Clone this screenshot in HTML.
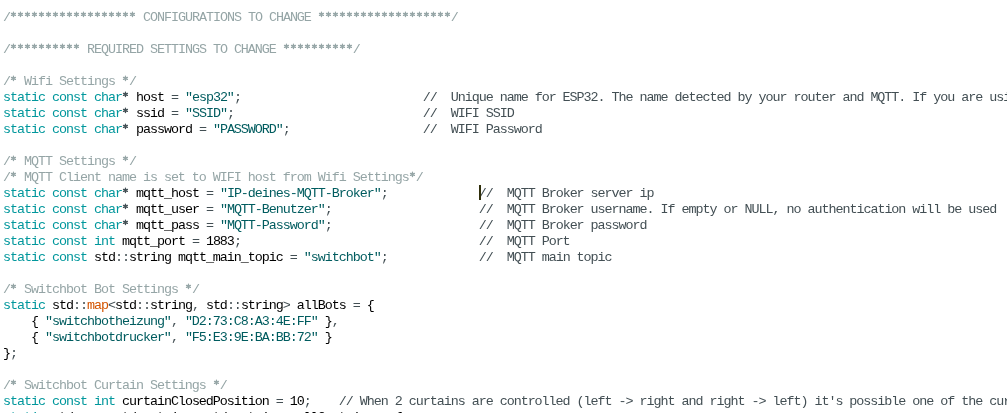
<!DOCTYPE html>
<html><head><meta charset="utf-8">
<style>
html,body{margin:0;padding:0;background:#fff;}
body{width:1007px;height:413px;overflow:hidden;position:relative;}
#ed{will-change:transform;position:absolute;left:2.8px;top:10px;font-family:"Liberation Mono",monospace;font-size:13.4px;letter-spacing:-1.0413px;line-height:16px;color:#000;}
.l{height:16px;white-space:pre;}
.k{color:#00979C}
.s{color:#005C5F}
.c1{color:#95A5A6}
.c2{color:#434F54}
.o{color:#434F54}
.f{color:#D35400}
i{font-style:normal;color:transparent}
#st{position:absolute;left:0;top:0;}
#cur{position:absolute;left:479px;top:185px;width:2px;height:15px;background:#2f2e0a;}
</style></head><body>
<div id="ed">
<div class="l"><span class="c1">/<i>*</i><i>*</i><i>*</i><i>*</i><i>*</i><i>*</i><i>*</i><i>*</i><i>*</i><i>*</i><i>*</i><i>*</i><i>*</i><i>*</i><i>*</i><i>*</i><i>*</i><i>*</i> CONFIGURATIONS TO CHANGE <i>*</i><i>*</i><i>*</i><i>*</i><i>*</i><i>*</i><i>*</i><i>*</i><i>*</i><i>*</i><i>*</i><i>*</i><i>*</i><i>*</i><i>*</i><i>*</i><i>*</i><i>*</i><i>*</i>/</span></div>
<div class="l"></div>
<div class="l"><span class="c1">/<i>*</i><i>*</i><i>*</i><i>*</i><i>*</i><i>*</i><i>*</i><i>*</i><i>*</i><i>*</i> REQUIRED SETTINGS TO CHANGE <i>*</i><i>*</i><i>*</i><i>*</i><i>*</i><i>*</i><i>*</i><i>*</i><i>*</i><i>*</i>/</span></div>
<div class="l"></div>
<div class="l"><span class="c1">/<i>*</i> Wifi Settings <i>*</i>/</span></div>
<div class="l"><span class="k">static</span> <span class="k">const</span> <span class="k">char</span><span class="o"><i>*</i></span> host <span class="o">=</span> <span class="s">"esp32"</span><span class="o">;</span>                          <span class="c2">//  Unique name for ESP32. The name detected by your router and MQTT. If you are using more than one ESP32</span></div>
<div class="l"><span class="k">static</span> <span class="k">const</span> <span class="k">char</span><span class="o"><i>*</i></span> ssid <span class="o">=</span> <span class="s">"SSID"</span><span class="o">;</span>                           <span class="c2">//  WIFI SSID</span></div>
<div class="l"><span class="k">static</span> <span class="k">const</span> <span class="k">char</span><span class="o"><i>*</i></span> password <span class="o">=</span> <span class="s">"PASSWORD"</span><span class="o">;</span>                   <span class="c2">//  WIFI Password</span></div>
<div class="l"></div>
<div class="l"><span class="c1">/<i>*</i> MQTT Settings <i>*</i>/</span></div>
<div class="l"><span class="c1">/<i>*</i> MQTT Client name is set to WIFI host from Wifi Settings<i>*</i>/</span></div>
<div class="l"><span class="k">static</span> <span class="k">const</span> <span class="k">char</span><span class="o"><i>*</i></span> mqtt_host <span class="o">=</span> <span class="s">"IP-deines-MQTT-Broker"</span><span class="o">;</span>             <span class="c2">//  MQTT Broker server ip</span></div>
<div class="l"><span class="k">static</span> <span class="k">const</span> <span class="k">char</span><span class="o"><i>*</i></span> mqtt_user <span class="o">=</span> <span class="s">"MQTT-Benutzer"</span><span class="o">;</span>                     <span class="c2">//  MQTT Broker username. If empty or NULL, no authentication will be used</span></div>
<div class="l"><span class="k">static</span> <span class="k">const</span> <span class="k">char</span><span class="o"><i>*</i></span> mqtt_pass <span class="o">=</span> <span class="s">"MQTT-Password"</span><span class="o">;</span>                     <span class="c2">//  MQTT Broker password</span></div>
<div class="l"><span class="k">static</span> <span class="k">const</span> <span class="k">int</span> mqtt_port <span class="o">=</span> 1883<span class="o">;</span>                                  <span class="c2">//  MQTT Port</span></div>
<div class="l"><span class="k">static</span> <span class="k">const</span> std<span class="o">::</span>string mqtt_main_topic <span class="o">=</span> <span class="s">"switchbot"</span><span class="o">;</span>             <span class="c2">//  MQTT main topic</span></div>
<div class="l"></div>
<div class="l"><span class="c1">/<i>*</i> Switchbot Bot Settings <i>*</i>/</span></div>
<div class="l"><span class="k">static</span> std<span class="o">::</span><span class="f">map</span><span class="o">&lt;</span>std<span class="o">::</span>string<span class="o">,</span> std<span class="o">::</span>string<span class="o">&gt;</span> allBots <span class="o">=</span> {</div>
<div class="l">    { <span class="s">"switchbotheizung"</span><span class="o">,</span> <span class="s">"D2:73:C8:A3:4E:FF"</span> }<span class="o">,</span></div>
<div class="l">    { <span class="s">"switchbotdrucker"</span><span class="o">,</span> <span class="s">"F5:E3:9E:BA:BB:72"</span> }</div>
<div class="l">}<span class="o">;</span></div>
<div class="l"></div>
<div class="l"><span class="c1">/<i>*</i> Switchbot Curtain Settings <i>*</i>/</span></div>
<div class="l"><span class="k">static</span> <span class="k">const</span> <span class="k">int</span> curtainClosedPosition <span class="o">=</span> 10<span class="o">;</span>    <span class="c2">// When 2 curtains are controlled (left -&gt; right and right -&gt; left) it's possible one of the curtains</span></div>
<div class="l"><span class="k">static</span> std<span class="o">::</span><span class="f">map</span><span class="o">&lt;</span>std<span class="o">::</span>string<span class="o">,</span> std<span class="o">::</span>string<span class="o">&gt;</span> allCurtains <span class="o">=</span> {</div>
</div>
<svg id="st" width="1007" height="413" viewBox="0 0 1007 413"><defs><path id="a" d="M0,-2.20V2.20M-1.94,-1.03L1.94,1.03M-1.94,1.03L1.94,-1.03" fill="none" stroke-width="1.3" stroke-linecap="round"/></defs>
<use href="#a" x="13.46" y="14.35" stroke="#95A5A6"/>
<use href="#a" x="20.46" y="14.35" stroke="#95A5A6"/>
<use href="#a" x="27.46" y="14.35" stroke="#95A5A6"/>
<use href="#a" x="34.46" y="14.35" stroke="#95A5A6"/>
<use href="#a" x="41.46" y="14.35" stroke="#95A5A6"/>
<use href="#a" x="48.46" y="14.35" stroke="#95A5A6"/>
<use href="#a" x="55.46" y="14.35" stroke="#95A5A6"/>
<use href="#a" x="62.46" y="14.35" stroke="#95A5A6"/>
<use href="#a" x="69.46" y="14.35" stroke="#95A5A6"/>
<use href="#a" x="76.46" y="14.35" stroke="#95A5A6"/>
<use href="#a" x="83.46" y="14.35" stroke="#95A5A6"/>
<use href="#a" x="90.46" y="14.35" stroke="#95A5A6"/>
<use href="#a" x="97.46" y="14.35" stroke="#95A5A6"/>
<use href="#a" x="104.46" y="14.35" stroke="#95A5A6"/>
<use href="#a" x="111.46" y="14.35" stroke="#95A5A6"/>
<use href="#a" x="118.46" y="14.35" stroke="#95A5A6"/>
<use href="#a" x="125.46" y="14.35" stroke="#95A5A6"/>
<use href="#a" x="132.46" y="14.35" stroke="#95A5A6"/>
<use href="#a" x="321.46" y="14.35" stroke="#95A5A6"/>
<use href="#a" x="328.46" y="14.35" stroke="#95A5A6"/>
<use href="#a" x="335.46" y="14.35" stroke="#95A5A6"/>
<use href="#a" x="342.46" y="14.35" stroke="#95A5A6"/>
<use href="#a" x="349.46" y="14.35" stroke="#95A5A6"/>
<use href="#a" x="356.46" y="14.35" stroke="#95A5A6"/>
<use href="#a" x="363.46" y="14.35" stroke="#95A5A6"/>
<use href="#a" x="370.46" y="14.35" stroke="#95A5A6"/>
<use href="#a" x="377.46" y="14.35" stroke="#95A5A6"/>
<use href="#a" x="384.46" y="14.35" stroke="#95A5A6"/>
<use href="#a" x="391.46" y="14.35" stroke="#95A5A6"/>
<use href="#a" x="398.46" y="14.35" stroke="#95A5A6"/>
<use href="#a" x="405.46" y="14.35" stroke="#95A5A6"/>
<use href="#a" x="412.46" y="14.35" stroke="#95A5A6"/>
<use href="#a" x="419.46" y="14.35" stroke="#95A5A6"/>
<use href="#a" x="426.46" y="14.35" stroke="#95A5A6"/>
<use href="#a" x="433.46" y="14.35" stroke="#95A5A6"/>
<use href="#a" x="440.46" y="14.35" stroke="#95A5A6"/>
<use href="#a" x="447.46" y="14.35" stroke="#95A5A6"/>
<use href="#a" x="13.46" y="46.35" stroke="#95A5A6"/>
<use href="#a" x="20.46" y="46.35" stroke="#95A5A6"/>
<use href="#a" x="27.46" y="46.35" stroke="#95A5A6"/>
<use href="#a" x="34.46" y="46.35" stroke="#95A5A6"/>
<use href="#a" x="41.46" y="46.35" stroke="#95A5A6"/>
<use href="#a" x="48.46" y="46.35" stroke="#95A5A6"/>
<use href="#a" x="55.46" y="46.35" stroke="#95A5A6"/>
<use href="#a" x="62.46" y="46.35" stroke="#95A5A6"/>
<use href="#a" x="69.46" y="46.35" stroke="#95A5A6"/>
<use href="#a" x="76.46" y="46.35" stroke="#95A5A6"/>
<use href="#a" x="286.46" y="46.35" stroke="#95A5A6"/>
<use href="#a" x="293.46" y="46.35" stroke="#95A5A6"/>
<use href="#a" x="300.46" y="46.35" stroke="#95A5A6"/>
<use href="#a" x="307.46" y="46.35" stroke="#95A5A6"/>
<use href="#a" x="314.46" y="46.35" stroke="#95A5A6"/>
<use href="#a" x="321.46" y="46.35" stroke="#95A5A6"/>
<use href="#a" x="328.46" y="46.35" stroke="#95A5A6"/>
<use href="#a" x="335.46" y="46.35" stroke="#95A5A6"/>
<use href="#a" x="342.46" y="46.35" stroke="#95A5A6"/>
<use href="#a" x="349.46" y="46.35" stroke="#95A5A6"/>
<use href="#a" x="13.46" y="78.35" stroke="#95A5A6"/>
<use href="#a" x="125.46" y="78.35" stroke="#95A5A6"/>
<use href="#a" x="125.46" y="94.35" stroke="#434F54"/>
<use href="#a" x="125.46" y="110.35" stroke="#434F54"/>
<use href="#a" x="125.46" y="126.35" stroke="#434F54"/>
<use href="#a" x="13.46" y="158.35" stroke="#95A5A6"/>
<use href="#a" x="125.46" y="158.35" stroke="#95A5A6"/>
<use href="#a" x="13.46" y="174.35" stroke="#95A5A6"/>
<use href="#a" x="412.46" y="174.35" stroke="#95A5A6"/>
<use href="#a" x="125.46" y="190.35" stroke="#434F54"/>
<use href="#a" x="125.46" y="206.35" stroke="#434F54"/>
<use href="#a" x="125.46" y="222.35" stroke="#434F54"/>
<use href="#a" x="13.46" y="286.35" stroke="#95A5A6"/>
<use href="#a" x="188.46" y="286.35" stroke="#95A5A6"/>
<use href="#a" x="13.46" y="382.35" stroke="#95A5A6"/>
<use href="#a" x="216.46" y="382.35" stroke="#95A5A6"/>
</svg>
<div id="cur"></div>
</body></html>
